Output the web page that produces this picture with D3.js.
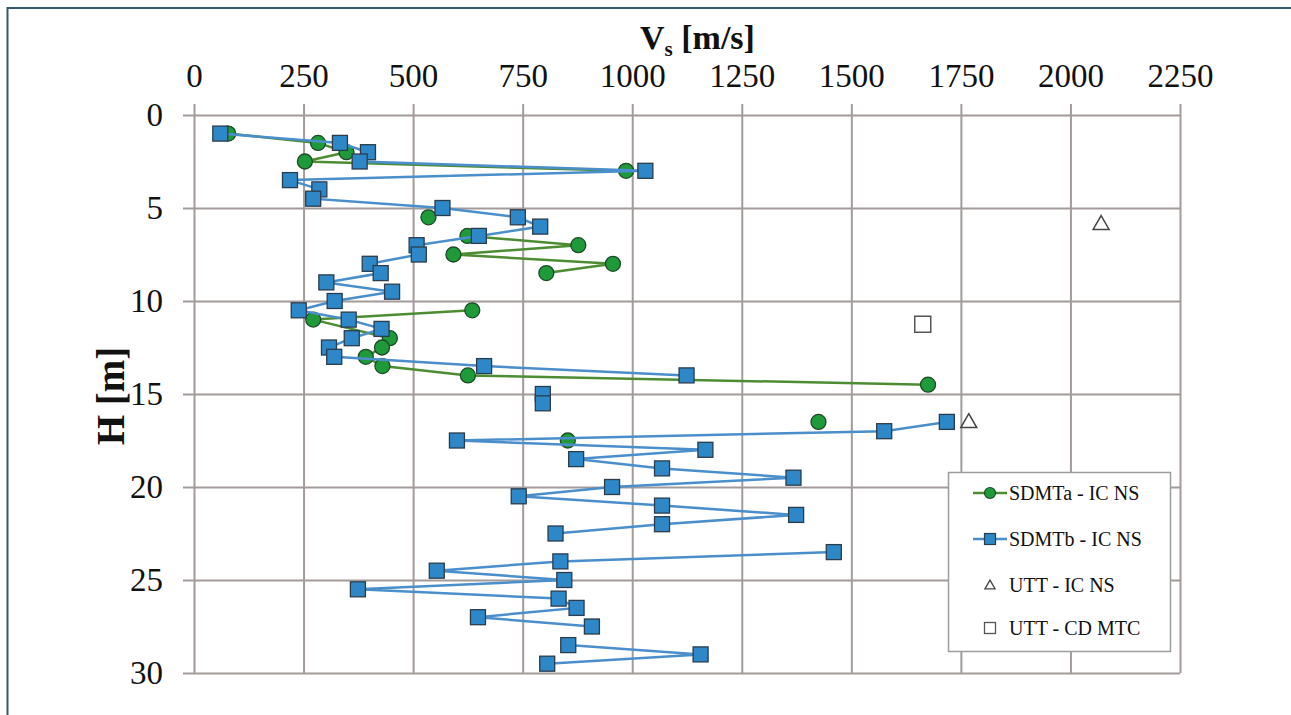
<!DOCTYPE html>
<html>
<head>
<meta charset="utf-8">
<script src="https://cdn.jsdelivr.net/npm/d3@7"></script>
<style>
  body { margin: 0; background: #fff; }
  svg { display: block; }
</style>
</head>
<body>
<div id="chart"></div>
<script>
// SDMTa - IC NS (null = no reading, line breaks there)
const sdmtaDepth = [1, 1.5, 2, 2.5, 3, 4, 5.5, 6, 6.5, 7, 7.5, 8, 8.5, 9.5, 10.5, 11, 12, 12.5, 13, 13.5, 14, 14.5, 15.5, 16.5, 17, 17.5];
const sdmtaVs = [78, 283, 348, 253, 986, null, 535, null, 624, 877, 592, 956, 804, null, 635, 272, 447, 429, 392, 430, 625, 1675, null, 1425, null, 853];

// SDMTb - IC NS
const sdmtbDepth = [1, 1.5, 2, 2.5, 3, 3.5, 4, 4.5, 5, 5.5, 6, 6.5, 7, 7.5, 8, 8.5, 9, 9.5, 10, 10.5,
  11, 11.5, 12, 12.5, 13, 13.5, 14, 14.5, 15, 15.5, 16, 16.5, 17, 17.5, 18, 18.5, 19, 19.5, 20, 20.5,
  21, 21.5, 22, 22.5, 23, 23.5, 24, 24.5, 25, 25.5, 26, 26.5, 27, 27.5, 28, 28.5, 29, 29.5];
const sdmtbVs = [60, 333, 397, 378, 1030, 219, 286, 272, 567, 739, 790, 650, 508, 513, 401, 426, 302, 452, 321, 239,
  353, 428, 360, 308, 320, 662, 1124, null, 796, 796, null, 1718, 1575, 600, 1167, 872, 1068, 1368, 954, 741,
  1068, 1374, 1068, 825, null, 1460, 836, 554, 845, 374, 832, 873, 648, 908, null, 854, 1156, 806];

// UTT - IC NS
const uttIcDepth = [5.85, 16.5];
const uttIcVs = [2070, 1768];

// UTT - CD MTC
const uttCdDepth = [11.25];
const uttCdVs = [1663];

const xTicks = [0, 250, 500, 750, 1000, 1250, 1500, 1750, 2000, 2250];
const yTicks = [0, 5, 10, 15, 20, 25, 30];

const legendNames = ["SDMTa - IC NS", "SDMTb - IC NS", "UTT - IC NS", "UTT - CD MTC"];

const width = 1291;
const height = 715;
const plot = { left: 194, right: 1180, top: 115, bottom: 673 };
const serif = "'Liberation Serif', 'Times New Roman', serif";

const gridColor = "#a39a9a";
const blueLine = "#4a8fcb";
const blueFill = "#2e87c6";
const greenLine = "#4d8c33";
const greenFill = "#1f9a3b";
const markStroke = "#2b3c4c";

const x = d3.scaleLinear().domain([0, 2250]).range([plot.left, plot.right]);
const y = d3.scaleLinear().domain([0, 30]).range([plot.top, plot.bottom]);

const svg = d3.select("#chart")
  .append("svg")
  .attr("width", width)
  .attr("height", height);

/* Frame */
svg.append("path")
  .attr("d", `M7.5,${height} V8 H${width}`)
  .attr("fill", "none")
  .attr("stroke", "#36586b")
  .attr("stroke-width", 2);

/* Grid */
svg.append("g")
  .attr("transform", `translate(0,${plot.top})`)
  .call(d3.axisTop(x).tickValues(xTicks).tickSize(-(plot.bottom - plot.top)).tickFormat(""))
  .call((g) => g.select(".domain").remove())
  .call((g) => g.selectAll(".tick line").attr("stroke", gridColor).attr("stroke-width", 2));

svg.append("g")
  .attr("transform", `translate(${plot.left},0)`)
  .call(d3.axisLeft(y).tickValues(yTicks).tickSize(-(plot.right - plot.left)).tickFormat(""))
  .call((g) => g.select(".domain").remove())
  .call((g) => g.selectAll(".tick line").attr("stroke", gridColor).attr("stroke-width", 2));

/* Axes */
const styleTicks = (g) => {
  g.select(".domain").remove();
  g.selectAll(".tick line").attr("stroke", gridColor).attr("stroke-width", 2);
  g.selectAll(".tick text")
    .attr("fill", "#111")
    .style("font-family", serif)
    .style("font-size", "33px");
};

svg.append("g")
  .attr("transform", `translate(0,${plot.top})`)
  .call(d3.axisTop(x).tickValues(xTicks).tickFormat(d3.format("d")).tickSize(11).tickPadding(17))
  .call(styleTicks);

svg.append("g")
  .attr("transform", `translate(${plot.left},0)`)
  .call(d3.axisLeft(y).tickValues(yTicks).tickFormat(d3.format("d")).tickSize(11).tickPadding(20))
  .call(styleTicks);

/* Axis titles */
const xTitle = svg.append("text")
  .attr("x", 640)
  .attr("y", 49)
  .style("font-family", serif)
  .attr("font-weight", "bold")
  .attr("font-size", 34)
  .attr("fill", "#111");
xTitle.append("tspan").text("V");
xTitle.append("tspan").attr("font-size", 21).attr("dy", 7).text("s");
xTitle.append("tspan").attr("dy", -7).text(" [m/s]");

svg.append("text")
  .attr("transform", `translate(124,${(plot.top + plot.bottom) / 2 + 2}) rotate(-90)`)
  .attr("text-anchor", "middle")
  .style("font-family", serif)
  .attr("font-weight", "bold")
  .attr("font-size", 39)
  .attr("fill", "#111")
  .text("H [m]");

/* Series */
const toPoints = (vs, depth) => vs.map((v, i) => ({ v: v, h: depth[i] }));

const line = d3.line()
  .defined((d) => d.v !== null)
  .x((d) => x(d.v))
  .y((d) => y(d.h));

const greenPts = toPoints(sdmtaVs, sdmtaDepth);
const bluePts = toPoints(sdmtbVs, sdmtbDepth);

svg.append("path")
  .datum(greenPts)
  .attr("d", line)
  .attr("fill", "none")
  .attr("stroke", greenLine)
  .attr("stroke-width", 2.5);

svg.append("g")
  .selectAll("circle")
  .data(greenPts.filter((d) => d.v !== null))
  .join("circle")
  .attr("cx", (d) => x(d.v))
  .attr("cy", (d) => y(d.h))
  .attr("r", 7.5)
  .attr("fill", greenFill)
  .attr("stroke", "#1d4a27")
  .attr("stroke-width", 1.3);

svg.append("path")
  .datum(bluePts)
  .attr("d", line)
  .attr("fill", "none")
  .attr("stroke", blueLine)
  .attr("stroke-width", 2.5);

svg.append("g")
  .selectAll("rect")
  .data(bluePts.filter((d) => d.v !== null))
  .join("rect")
  .attr("x", (d) => x(d.v) - 7.5)
  .attr("y", (d) => y(d.h) - 7.5)
  .attr("width", 15)
  .attr("height", 15)
  .attr("fill", blueFill)
  .attr("stroke", markStroke)
  .attr("stroke-width", 1.3);

const triangle = d3.symbol().type(d3.symbolTriangle).size(110);

svg.append("g")
  .selectAll("path")
  .data(toPoints(uttIcVs, uttIcDepth))
  .join("path")
  .attr("transform", (d) => `translate(${x(d.v)},${y(d.h) + 1})`)
  .attr("d", triangle)
  .attr("fill", "#fff")
  .attr("stroke", "#444")
  .attr("stroke-width", 1.5);

svg.append("g")
  .selectAll("rect")
  .data(toPoints(uttCdVs, uttCdDepth))
  .join("rect")
  .attr("x", (d) => x(d.v) - 8)
  .attr("y", (d) => y(d.h) - 8)
  .attr("width", 16)
  .attr("height", 16)
  .attr("fill", "#fff")
  .attr("stroke", "#555")
  .attr("stroke-width", 1.5);

/* Legend */
const legend = svg.append("g");
legend.append("rect")
  .attr("x", 948.5)
  .attr("y", 472.5)
  .attr("width", 222)
  .attr("height", 179)
  .attr("fill", "#fff")
  .attr("stroke", "#9c9c9c")
  .attr("stroke-width", 1.5);

const rowY = [493, 539, 585, 628];
const mx = 990;

legend.append("line").attr("x1", 973).attr("x2", 1007).attr("y1", rowY[0]).attr("y2", rowY[0])
  .attr("stroke", greenLine).attr("stroke-width", 2.5);
legend.append("circle").attr("cx", mx).attr("cy", rowY[0]).attr("r", 5.5)
  .attr("fill", greenFill).attr("stroke", "#1d4a27").attr("stroke-width", 1.2);

legend.append("line").attr("x1", 973).attr("x2", 1007).attr("y1", rowY[1]).attr("y2", rowY[1])
  .attr("stroke", blueLine).attr("stroke-width", 2.5);
legend.append("rect").attr("x", mx - 5.5).attr("y", rowY[1] - 5.5).attr("width", 11).attr("height", 11)
  .attr("fill", blueFill).attr("stroke", markStroke).attr("stroke-width", 1.2);

legend.append("path")
  .attr("transform", `translate(${mx},${rowY[2] + 1})`)
  .attr("d", d3.symbol().type(d3.symbolTriangle).size(45))
  .attr("fill", "#fff").attr("stroke", "#444").attr("stroke-width", 1.3);

legend.append("rect").attr("x", mx - 5.5).attr("y", rowY[3] - 5.5).attr("width", 11).attr("height", 11)
  .attr("fill", "#fff").attr("stroke", "#555").attr("stroke-width", 1.3);

legend.selectAll("text.name")
  .data(legendNames)
  .join("text")
  .attr("class", "name")
  .attr("x", 1009)
  .attr("y", (d, i) => rowY[i] + 7)
  .style("font-family", serif)
  .attr("font-size", 20)
  .attr("fill", "#111")
  .text((d) => d);
</script>
</body>
</html>
